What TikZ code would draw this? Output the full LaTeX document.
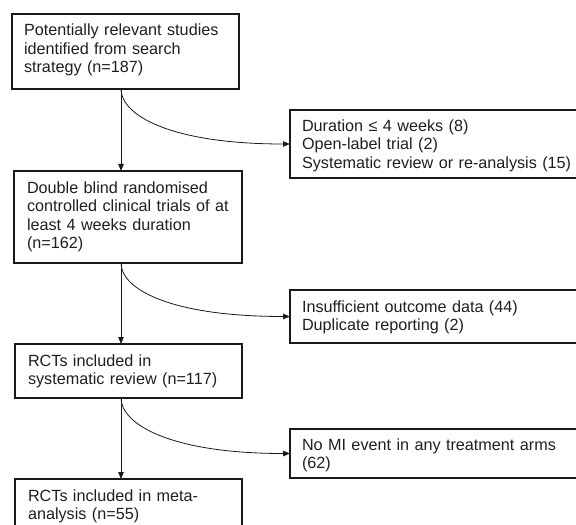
\documentclass[tikz,border=0pt]{standalone}
\usepackage{fontspec}
\setmainfont{Liberation Sans}
\usetikzlibrary{arrows.meta,calc}
\begin{document}
\begin{tikzpicture}[x=1bp,y=-1bp,
  box/.style={draw=black!90,line width=1.4bp,anchor=north west,align=left,
    inner ysep=0pt,outer sep=0pt,
    font=\fontsize{16.2bp}{18.3bp}\selectfont,text=black!88},
  conn/.style={draw=black!90,line width=0.8bp,-{Triangle[length=7bp,width=5.5bp]}}]
\useasboundingbox (0,0) rectangle (576,525);
\clip (0,0) rectangle (576,525);
% main column
\node[box,inner xsep=12bp,text width=203bp,text height=22bp,text depth=53bp] (b1) at (12,14)
  {Potentially relevant studies\\identified from search\\strategy (n=187)};
\node[box,inner xsep=13bp,text width=202bp,text height=22.5bp,text depth=69.5bp] (b2) at (14,171)
  {Double blind randomised\\controlled clinical trials of at\\least 4 weeks duration\\(n=162)};
\node[box,inner xsep=13bp,text width=201bp,text height=22bp,text depth=32bp] (b3) at (15,344)
  {RCTs included in\\systematic review (n=117)};
\node[box,inner xsep=13bp,text width=201bp,text height=22bp,text depth=50bp] (b4) at (15,479)
  {RCTs included in meta-\\analysis (n=55)};
% exclusion boxes
\node[box,inner xsep=12bp,text width=276bp,text height=21.7bp,text depth=46.3bp] (r1) at (290,110)
  {Duration ≤ 4 weeks (8)\\Open-label trial (2)\\Systematic review or re-analysis (15)};
\node[box,inner xsep=12bp,text width=276bp,text height=22bp,text depth=31bp] (r2) at (290,290)
  {Insufficient outcome data (44)\\Duplicate reporting (2)};
\node[box,inner xsep=12bp,text width=276bp,text height=21bp,text depth=28bp] (r3) at (290,429)
  {No MI event in any treatment arms\\(62)};
% spine
\coordinate (sp) at (121,0);
\draw[conn] (b1.south -| sp) -- (b2.north -| sp);
\draw[conn] (b2.south -| sp) -- (b3.north -| sp);
\draw[conn] (b3.south -| sp) -- (b4.north -| sp);
% curved exclusions
\draw[conn] (b1.south -| sp) .. controls +(0,26) and +(-120,0) .. (r1.west);
\draw[conn] (b2.south -| sp) .. controls +(0,26) and +(-120,0) .. (r2.west);
\draw[conn] (b3.south -| sp) .. controls +(0,26) and +(-120,0) .. (r3.west);
\end{tikzpicture}
\end{document}
